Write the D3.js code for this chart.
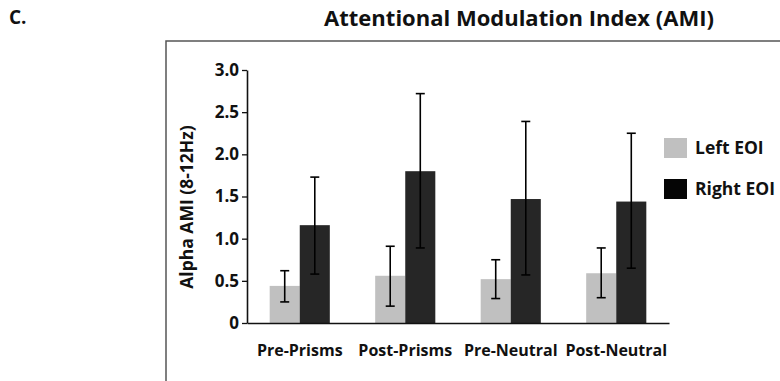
<!DOCTYPE html>
<html><head><meta charset="utf-8">
<script src="https://cdn.jsdelivr.net/npm/d3@7"></script>
<style>body{margin:0;background:#fff}svg{display:block}text{font-family:"Open Sans",sans-serif;font-weight:bold;fill:#111}</style>
</head><body><svg id="c" width="780" height="381"></svg>
<script>
const categories = ["Pre-Prisms","Post-Prisms","Pre-Neutral","Post-Neutral"];
const seriesNames = ["Left EOI","Right EOI"];
const leftMean = [0.44, 0.56, 0.52, 0.59];
const leftLow  = [0.25, 0.20, 0.29, 0.30];
const leftHigh = [0.62, 0.91, 0.75, 0.89];
const rightMean = [1.16, 1.80, 1.47, 1.44];
const rightLow  = [0.58, 0.89, 0.57, 0.65];
const rightHigh = [1.73, 2.72, 2.39, 2.25];
const yTicks = [0, 0.5, 1.0, 1.5, 2.0, 2.5, 3.0];
const yTickLabels = ["0","0.5","1.0","1.5","2.0","2.5","3.0"];

const FONT = "'Open Sans',sans-serif";
const svg = d3.select("#c");
const colors = {"Left EOI":"#c0c0c0","Right EOI":"#262626"};
const legendColors = {"Left EOI":"#c0c0c0","Right EOI":"#050505"};

// frame
svg.append("path").attr("d","M166,381V41H780").attr("fill","none").attr("stroke","#555").attr("stroke-width",1.5);

svg.append("text").attr("x",9).attr("y",24).attr("font-size",19).text("C.");
svg.append("text").attr("x",519).attr("y",26).attr("text-anchor","middle").attr("font-size",22).text("Attentional Modulation Index (AMI)");

const x0 = d3.scaleBand().domain(categories).range([247,669]).paddingInner(0.43).paddingOuter(0.215);
const x1 = d3.scaleBand().domain(seriesNames).range([0,x0.bandwidth()]);
const y = d3.scaleLinear().domain([0,3]).range([323,70]);

const data = [];
categories.forEach((c,i)=>{
  data.push({c, s:"Left EOI", v:leftMean[i], lo:leftLow[i], hi:leftHigh[i]});
  data.push({c, s:"Right EOI", v:rightMean[i], lo:rightLow[i], hi:rightHigh[i]});
});

svg.selectAll("rect.bar").data(data).join("rect").attr("class","bar")
  .attr("x",d=>x0(d.c)+x1(d.s)).attr("width",x1.bandwidth())
  .attr("y",d=>y(d.v)).attr("height",d=>y(0)-y(d.v)).attr("fill",d=>colors[d.s]);

const eb = svg.append("g").attr("stroke","#000").attr("stroke-width",1.6).attr("fill","none");
data.forEach(d=>{
  const cx = x0(d.c)+x1(d.s)+x1.bandwidth()/2;
  eb.append("line").attr("x1",cx).attr("x2",cx).attr("y1",y(d.lo)).attr("y2",y(d.hi));
  eb.append("line").attr("x1",cx-4.5).attr("x2",cx+4.5).attr("y1",y(d.lo)).attr("y2",y(d.lo));
  eb.append("line").attr("x1",cx-4.5).attr("x2",cx+4.5).attr("y1",y(d.hi)).attr("y2",y(d.hi));
});

// y axis
const ya = svg.append("g").attr("transform","translate(247,0)")
  .call(d3.axisLeft(y).tickValues(yTicks).tickFormat((d,i)=>yTickLabels[i]).tickSize(5).tickSizeOuter(0));
ya.select(".domain").attr("stroke","#111").attr("stroke-width",1.6);
ya.selectAll(".tick line").attr("stroke","#111").attr("stroke-width",1.3);
ya.selectAll(".tick text").attr("font-size",17).attr("font-family",FONT).attr("font-weight","bold").attr("fill","#111").attr("x",-8);

// x axis
const xa = svg.append("g").attr("transform","translate(0,323)")
  .call(d3.axisBottom(x0).tickSize(0).tickSizeOuter(0));
xa.select(".domain").attr("stroke","#111").attr("stroke-width",1.6);
xa.selectAll(".tick text").attr("font-size",16).attr("font-family",FONT).attr("font-weight","bold").attr("fill","#111").attr("dy",0).attr("y",33);

svg.append("text").attr("transform","translate(193,207) rotate(-90)").attr("text-anchor","middle").attr("font-size",17.5).text("Alpha AMI (8-12Hz)");

// legend
const lg = svg.append("g");
seriesNames.forEach((s,i)=>{
  const yy = 138 + i*41;
  lg.append("rect").attr("x",664).attr("y",yy).attr("width",23).attr("height",20).attr("fill",legendColors[s]);
  lg.append("text").attr("x",695).attr("y",yy+16).attr("font-size",17.5).text(s);
});
</script></body></html>
